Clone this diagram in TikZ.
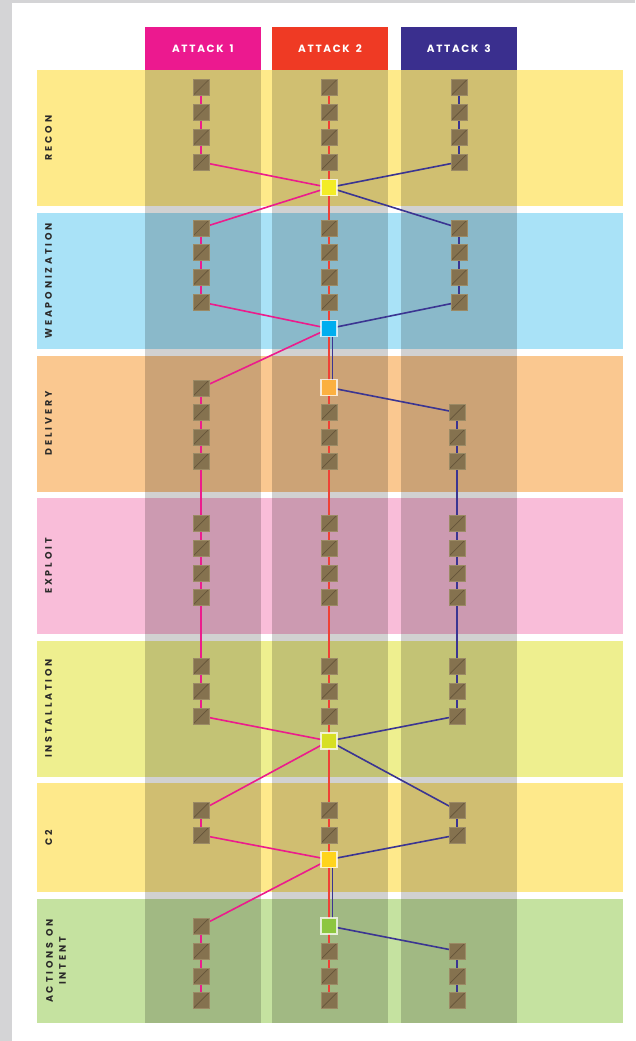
\documentclass[tikz,border=0pt]{standalone}
\usepackage{fontspec}
\setmainfont{Poppins}
\newfontfamily\lblfont[LetterSpace=30]{Poppins}
\newfontfamily\hdrfont[LetterSpace=16]{Poppins}
\newcommand{\wsp}{\kern 6pt}
\usetikzlibrary{calc}
\definecolor{pagegray}{HTML}{D4D4D6}
\definecolor{bandrecon}{HTML}{FEEA8A}
\definecolor{bandweap}{HTML}{A9E2F7}
\definecolor{banddeliv}{HTML}{FAC890}
\definecolor{bandexpl}{HTML}{F9BDD9}
\definecolor{bandinst}{HTML}{EEEF8F}
\definecolor{bandctwo}{HTML}{FEE98B}
\definecolor{bandact}{HTML}{C5E2A0}
\definecolor{hdrone}{HTML}{EC198F}
\definecolor{hdrtwo}{HTML}{EF3A24}
\definecolor{hdrthree}{HTML}{3A2F8E}
\definecolor{lpink}{HTML}{EC1C8C}
\definecolor{lred}{HTML}{EF4136}
\definecolor{lpurple}{HTML}{3B3592}
\definecolor{sqfill}{HTML}{85724F}
\definecolor{sqedge}{HTML}{9B8A65}
\definecolor{sqdiag}{HTML}{65553A}
\definecolor{kyellow}{HTML}{F3EC26}
\definecolor{kblue}{HTML}{00AEEF}
\definecolor{korange}{HTML}{FBB040}
\definecolor{klime}{HTML}{D7DF23}
\definecolor{kgold}{HTML}{FFD41C}
\definecolor{kgreen}{HTML}{8DC63F}
\definecolor{lbltext}{HTML}{2B2A29}
\begin{document}
\begin{tikzpicture}[x=1pt,y=-1pt,
  hdr/.style={rectangle, minimum width=115.7pt, minimum height=43pt, inner sep=0pt,
    text=white, font=\hdrfont\bfseries\fontsize{10.5}{11}\selectfont},
  lbl/.style={rotate=90, inner sep=0pt, align=center, text=lbltext,
    font=\lblfont\bfseries\fontsize{9.5}{13}\selectfont},
  sq/.style={rectangle, minimum size=16pt, inner sep=0pt, fill=sqfill, draw=sqedge,
    line width=0.6pt, path picture={\draw[sqdiag, line width=0.7pt]
      (path picture bounding box.south west) -- (path picture bounding box.north east);}},
  knot/.style={rectangle, minimum size=16pt, inner sep=0pt, draw=white, draw opacity=0.75,
    line width=1.2pt},
  pinkl/.style={lpink, line width=1.6pt},
  redl/.style={lred, line width=1.6pt},
  purpl/.style={lpurple, line width=1.6pt},
  colshade/.style={fill=black, fill opacity=0.18}]
\useasboundingbox (0,0) rectangle (635,1041);
\fill[pagegray] (0,0) rectangle (635,1041);
\fill[white] (12,3) rectangle (635,1041);
% bands
\fill[bandrecon] (36.5,70) rectangle (623,206);
\fill[bandweap] (36.5,212.7) rectangle (623,349);
\fill[banddeliv] (36.5,355.5) rectangle (623,491.5);
\fill[bandexpl] (36.5,498) rectangle (623,634);
\fill[bandinst] (36.5,640.5) rectangle (623,776.7);
\fill[bandctwo] (36.5,783.3) rectangle (623,892);
\fill[bandact] (36.5,899.3) rectangle (623,1022.7);
% column shading
\fill[colshade] (145,70) rectangle (260.7,1022.7);
\fill[colshade] (272.3,70) rectangle (387.7,1022.7);
\fill[colshade] (401,70) rectangle (516.7,1022.7);
% headers
\node[hdr, fill=hdrone] (h1) at (202.85,48.5) {ATTACK\wsp 1};
\node[hdr, fill=hdrtwo] (h2) at (330,48.5) {ATTACK\wsp 2};
\node[hdr, fill=hdrthree] (h3) at (458.85,48.5) {ATTACK\wsp 3};
% phase labels
\node[lbl] (lrecon) at (48.5,138) {RECON};
\node[lbl] (lweap) at (48.5,281) {WEAPONIZATION};
\node[lbl] (ldeliv) at (48.5,423.5) {DELIVERY};
\node[lbl] (lexpl) at (48.5,566) {EXPLOIT};
\node[lbl] (linst) at (48.5,708.5) {INSTALLATION};
\node[lbl] (lctwo) at (48.5,837.5) {C2};
\node[lbl] (lact) at (56,961) {ACTIONS\wsp ON\\INTENT};
% attack 1 squares
\foreach \yy [count=\i] in {87.5,112.5,137.5,162,228,252.7,277.3,302,388,412,437,461,523,548,573,597,666.7,691.3,716,810.3,835,926,951,976,1000.5}
  \coordinate (pa-\i) at (201,\yy);
% attack 2 squares
\foreach \yy [count=\i] in {87.5,112.5,137.5,162,228,252.7,277.3,302,412,437,461,523,548,573,597,666.7,691.3,716,810.3,835,951,976,1000.5}
  \coordinate (pb-\i) at (329,\yy);
% attack 3 squares
\foreach \yy [count=\i] in {87.5,112.5,137.5,162,228,252.7,277.3,302}
  \coordinate (pc-\i) at (459,\yy);
\foreach \yy [count=\i from 9] in {412.5,437,461,523,548,573,597,666.7,691.3,716,810.3,835,951,976,1000.5}
  \coordinate (pc-\i) at (457,\yy);
% junction positions
\coordinate (jr) at (329,187.5);
\coordinate (jw) at (329,328.5);
\coordinate (jd) at (329,387.5);
\coordinate (ji) at (329,741);
\coordinate (jc) at (329,859.5);
\coordinate (ja) at (329,926);
% connectors (behind squares)
\draw[redl] (pb-1) -- (pb-23);
\draw[pinkl] (pa-1) -- (pa-4) -- (jr) -- (pa-5) -- (pa-8) -- (jw) -- (pa-9)
  -- (pa-19) -- (ji) -- (pa-20) -- (pa-21) -- (jc) -- (pa-22) -- (pa-25);
\draw[purpl] (pc-1) -- (pc-4) -- (jr) -- (pc-5) -- (pc-8) -- (jw);
\draw[purpl] ($(jw)+(3.3,0)$) -- ($(jd)+(3.3,0)$);
\draw[purpl] (jd) -- (pc-9) -- (pc-18) -- (ji) -- (pc-19) -- (pc-20) -- (jc);
\draw[purpl] ($(jc)+(3.3,0)$) -- ($(ja)+(3.3,0)$);
\draw[purpl] (ja) -- (pc-21) -- (pc-23);
% squares
\foreach \i in {1,...,25} \node[sq] (a\i) at (pa-\i) {};
\foreach \i in {1,...,23} \node[sq] (b\i) at (pb-\i) {};
\foreach \i in {1,...,23} \node[sq] (c\i) at (pc-\i) {};
% junction nodes
\node[knot, fill=kyellow] (kr) at (jr) {};
\node[knot, fill=kblue] (kw) at (jw) {};
\node[knot, fill=korange] (kd) at (jd) {};
\node[knot, fill=klime] (ki) at (ji) {};
\node[knot, fill=kgold] (kc) at (jc) {};
\node[knot, fill=kgreen] (ka) at (ja) {};
\end{tikzpicture}
\end{document}
